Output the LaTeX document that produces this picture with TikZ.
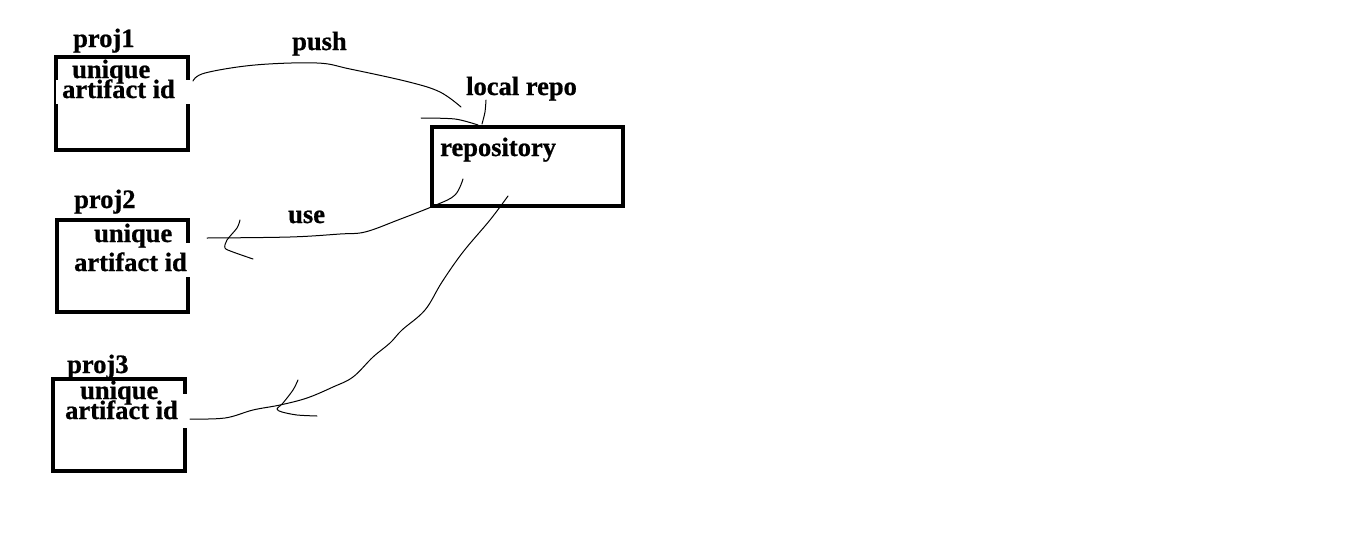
\documentclass[tikz,border=0pt]{standalone}
\usepackage{fontspec}
\setmainfont{Liberation Serif}[BoldFeatures={FakeBold=0.8}]
\begin{document}
\begin{tikzpicture}[x=1pt,y=-1pt,
  box/.style={draw=black,line width=4pt,inner sep=0pt},
  lbl/.style={anchor=base west,inner sep=0pt,font=\fontsize{26.5}{28}\selectfont\bfseries},
  gap/.style={fill=white,draw=none},
  ink/.style={line width=1pt,line cap=round,line join=round}]
\useasboundingbox[fill=white] (0,0) rectangle (1349,544);
% boxes
\node[box,minimum width=132pt,minimum height=93pt] (p1) at (122,103.5) {};
\node[box,minimum width=131pt,minimum height=92pt] (p2) at (122.5,266) {};
\node[box,minimum width=132pt,minimum height=92pt] (p3) at (119,425) {};
\node[box,minimum width=191pt,minimum height=79pt] (repo) at (527.5,166.5) {};
% opaque text backgrounds cutting the borders
\fill[gap] (55.5,80) rectangle (192,104);
\fill[gap] (72,243) rectangle (192,277);
\fill[gap] (62,394) rectangle (190,428);
% labels
\node[lbl] (t1) at (73,47) {proj1};
\node[lbl] (u1) at (72,78) {unique};
\node[lbl] (a1) at (62,98) {artifact id};
\node[lbl] (t2) at (74,208) {proj2};
\node[lbl] (u2) at (94,242) {unique};
\node[lbl] (a2) at (74,271) {artifact id};
\node[lbl] (t3) at (67,373) {proj3};
\node[lbl] (u3) at (80,399) {unique};
\node[lbl] (a3) at (65,419) {artifact id};
\node[lbl] (rp) at (440,156) {repository};
\node[lbl] (lr) at (466,95) {local repo};
\node[lbl] (push) at (292,50) {push};
\node[lbl] (use) at (288,223) {use};
% push
\draw[ink] plot[smooth,tension=0.6] coordinates {(193,81) (205,73) (255,65) (317,63) (350,69) (409,82) (440,92) (461,107)};
\draw[ink] plot[smooth,tension=0.5] coordinates {(421,118) (455,119) (478,125)};
\draw[ink] plot[smooth,tension=0.5] coordinates {(486,100) (485,112) (482,124)};
% use
\draw[ink] plot[smooth,tension=0.6] coordinates {(463,179) (455,195) (436,205) (398,220) (365,232) (340,234) (290,237) (207,238)};
\draw[ink] plot[smooth,tension=0.5] coordinates {(240,220) (237,228) (227,240) (225,248) (233,252) (253,259)};
% third
\draw[ink] plot[smooth,tension=0.6] coordinates {(508,196) (490,220) (463,252) (442,282) (425,310) (402,330) (390,343) (373,357) (353,377) (333,387) (307,398) (280,405) (253,410) (225,418) (190,419)};
\draw[ink] plot[smooth,tension=0.5] coordinates {(298,380) (293,390) (283,403) (277,409) (282,412) (297,415) (317,416)};
\end{tikzpicture}
\end{document}
